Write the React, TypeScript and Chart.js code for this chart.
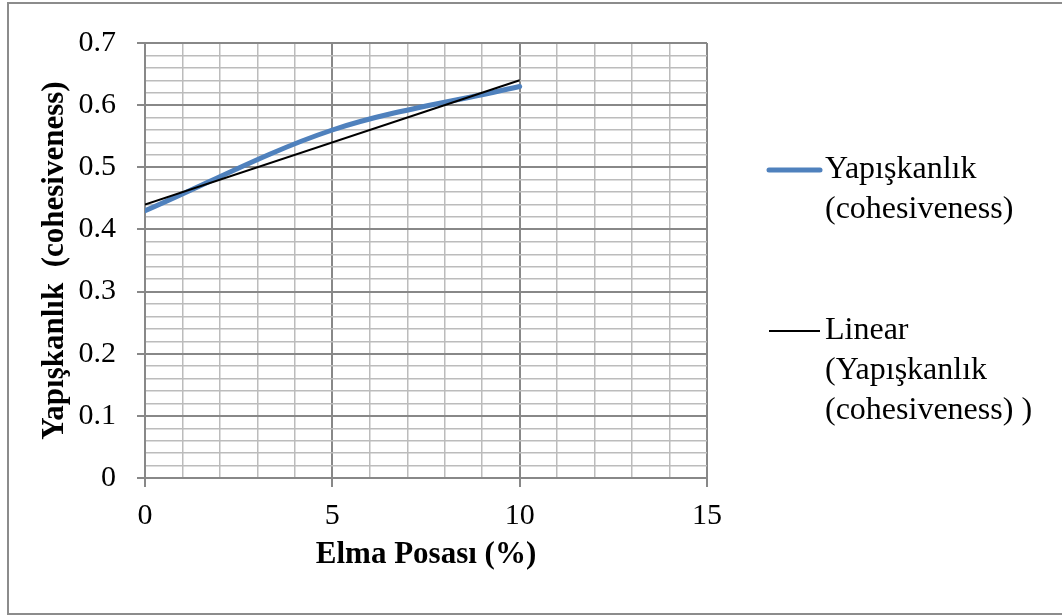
import React, { useEffect, useRef } from "react";
import { Chart, registerables } from "chart.js";

Chart.register(...registerables);

// ---- data ----
const xValues = [0, 5, 10];
const cohesiveness = [0.43, 0.56, 0.63];
const trendX = [0, 10];
const trendY = [0.44, 0.64];

const seriesLabel = "Yapışkanlık (cohesiveness)";
const trendLabel = "Linear (Yapışkanlık (cohesiveness) )";
const seriesLegendLines = ["Yapışkanlık", "(cohesiveness)"];
const trendLegendLines = ["Linear", "(Yapışkanlık", "(cohesiveness) )"];

const xTitle = "Elma Posası (%)";
const yTitle = "Yapışkanlık  (cohesiveness)";

const xMin = 0;
const xMax = 15;
const xMinorStep = 1;
const xMajorStep = 5;
const yMin = 0;
const yMax = 0.7;
const yMinorStep = 0.02;
const yMajorStep = 0.1;

// ---- styles ----
const FONT = '"Liberation Serif", "Times New Roman", serif';
const BLUE = "#4F81BD";
const MAJOR = "#888888";
const MINOR = "#bcbcbc";

const isMajorX = (v: number) => Math.abs(v / xMajorStep - Math.round(v / xMajorStep)) < 1e-6;
const isMajorY = (v: number) => Math.abs(v / yMajorStep - Math.round(v / yMajorStep)) < 1e-6;

const frameAndLegend = {
  id: "frameAndLegend",
  beforeDraw(chart: any) {
    const ctx = chart.ctx;
    ctx.save();
    ctx.fillStyle = "#ffffff";
    ctx.fillRect(0, 0, chart.width, chart.height);
    ctx.strokeStyle = "#8c8c8c";
    ctx.lineWidth = 2;
    ctx.strokeRect(8, 3, chart.width + 20, chart.height - 4);
    ctx.restore();
  },
  afterDraw(chart: any) {
    const ctx = chart.ctx;
    ctx.save();
    ctx.font = `32px ${FONT}`;
    ctx.textBaseline = "middle";
    ctx.textAlign = "left";
    ctx.fillStyle = "#000";
    const items = [
      { lines: seriesLegendLines, y: 170, color: BLUE, width: 5 },
      { lines: trendLegendLines, y: 331, color: "#000000", width: 2 },
    ];
    const lh = 40;
    items.forEach((it) => {
      ctx.strokeStyle = it.color;
      ctx.lineWidth = it.width;
      ctx.lineCap = it.width > 3 ? "round" : "butt";
      ctx.beginPath();
      ctx.moveTo(769, it.y);
      ctx.lineTo(820, it.y);
      ctx.stroke();
      it.lines.forEach((t, i) => ctx.fillText(t, 825, it.y + i * lh));
    });
    ctx.restore();
  },
};

export default function App() {
  const ref = useRef<HTMLCanvasElement>(null);
  useEffect(() => {
    if (!ref.current) return;
    const chart = new Chart(ref.current, {
      type: "line",
      data: {
        datasets: [
          {
            label: trendLabel,
            data: trendX.map((x, i) => ({ x, y: trendY[i] })),
            borderColor: "#000000",
            borderWidth: 2,
            pointRadius: 0,
            tension: 0,
            order: 0,
          },
          {
            label: seriesLabel,
            data: xValues.map((x, i) => ({ x, y: cohesiveness[i] })),
            borderColor: BLUE,
            borderWidth: 5,
            borderCapStyle: "round",
            pointRadius: 0,
            tension: 0.33,
            order: 1,
          },
        ],
      },
      plugins: [frameAndLegend],
      options: {
        responsive: false,
        animation: false,
        devicePixelRatio: 1,
        layout: { padding: { left: 0, top: 43, right: 355, bottom: 0 } },
        plugins: {
          legend: { display: false },
          tooltip: { enabled: false },
        },
        scales: {
          x: {
            type: "linear",
            min: xMin,
            max: xMax,
            afterFit: (s: any) => {
              s.height = 137;
            },
            ticks: {
              stepSize: xMinorStep,
              autoSkip: false,
              maxRotation: 0,
              padding: 11,
              color: "#000",
              font: { family: FONT, size: 30 },
              callback: (v: any) => (isMajorX(Number(v)) ? String(Math.round(Number(v))) : ""),
            },
            grid: {
              color: (c: any) => (c.tick && isMajorX(c.tick.value) ? MAJOR : MINOR),
              lineWidth: (c: any) => (c.tick && isMajorX(c.tick.value) ? 2 : 1.5),
              tickColor: (c: any) => (c.tick && isMajorX(c.tick.value) ? MAJOR : "rgba(0,0,0,0)"),
              tickLength: 9,
              tickWidth: 2,
            },
            border: { color: MAJOR, width: 2 },
            title: {
              display: true,
              text: xTitle,
              color: "#000",
              font: { family: FONT, size: 31, weight: "bold" },
              padding: { top: 0, bottom: 41 },
            },
          },
          y: {
            type: "linear",
            min: yMin,
            max: yMax,
            afterFit: (s: any) => {
              s.width = 145;
            },
            ticks: {
              stepSize: yMinorStep,
              autoSkip: false,
              padding: 21,
              color: "#000",
              font: { family: FONT, size: 30 },
              callback: (v: any) => {
                const n = Number(v);
                return isMajorY(n) ? String(Math.round(n * 10) / 10) : "";
              },
            },
            grid: {
              color: (c: any) => (c.tick && isMajorY(c.tick.value) ? MAJOR : MINOR),
              lineWidth: (c: any) => (c.tick && isMajorY(c.tick.value) ? 2 : 1.5),
              tickColor: (c: any) => (c.tick && isMajorY(c.tick.value) ? MAJOR : "rgba(0,0,0,0)"),
              tickLength: 8,
              tickWidth: 2,
            },
            border: { color: MAJOR, width: 2 },
            title: {
              display: true,
              text: yTitle,
              color: "#000",
              font: { family: FONT, size: 31, weight: "bold" },
              padding: { top: 36, bottom: 0 },
            },
          },
        },
      },
    } as any);
    return () => chart.destroy();
  }, []);
  return (
    <div style={{ position: "absolute", left: 0, top: 0, width: 1062, height: 615 }}>
      <canvas ref={ref} width={1062} height={615} style={{ display: "block" }} />
    </div>
  );
}
